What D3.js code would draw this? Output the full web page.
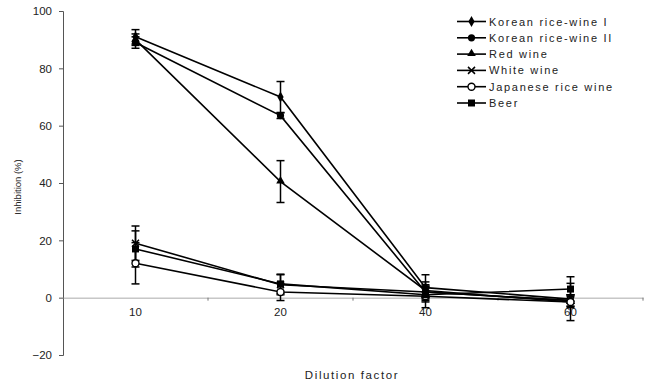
<!DOCTYPE html>
<html>
<head>
<meta charset="utf-8">
<script src="https://cdn.jsdelivr.net/npm/d3@7"></script>
<style>
  body { margin: 0; background: #fff; }
  text { font-family: "Liberation Sans", Arial, sans-serif; fill: #222; }
</style>
</head>
<body>
<script>
// dilution factors on the x axis
var factors = ["10", "20", "40", "60"];
var seriesNames = ["Korean rice-wine I", "Korean rice-wine II", "Red wine", "White wine", "Japanese rice wine", "Beer"];
var markers = ["diamond", "circle", "triangle", "cross", "open", "square"];

// inhibition (%)
var koreanI   = [91, 70, 3.5, -0.5];
var koreanII  = [89, 63.5, 2, -1];
var redWine   = [90, 40.5, 2.5, -1.5];
var whiteWine = [19, 4.5, 2, -1];
var japanese  = [12, 2, 0.5, -1.5];
var beer      = [17, 4.8, 1, 3];

// error bars (+/-)
var errKoreanI   = [2.5, 5.4, 4.5, 1.5];
var errKoreanII  = [2, 1, 2, 2];
var errRedWine   = [2, 7.3, 3, 2];
var errWhiteWine = [6, 3.5, 2, 2];
var errJapanese  = [7.2, 3, 4, 6.5];
var errBeer      = [6.3, 3.4, 2.5, 4.3];

var yTicks = [-20, 0, 20, 40, 60, 80, 100];

var values = [koreanI, koreanII, redWine, whiteWine, japanese, beer];
var errors = [errKoreanI, errKoreanII, errRedWine, errWhiteWine, errJapanese, errBeer];

var series = seriesNames.map(function(n, i) {
  return {name: n, marker: markers[i], points: factors.map(function(f, j) {
    return {f: f, v: values[i][j], e: errors[i][j]};
  })};
});

var W = 652, H = 385;
var margin = {top: 11, right: 9, bottom: 30, left: 63};

var svg = d3.select("body").append("svg")
    .attr("width", W)
    .attr("height", H);

var x = d3.scaleBand().domain(factors).range([margin.left, W - margin.right]);
var y = d3.scaleLinear().domain([-20, 100]).range([H - margin.bottom, margin.top]);

// y axis
var yAxis = svg.append("g")
    .attr("transform", "translate(" + margin.left + ",0)")
    .call(d3.axisLeft(y).tickValues(yTicks).tickSize(4).tickPadding(7));
yAxis.select(".domain").attr("stroke", "#555");
yAxis.selectAll(".tick line").attr("stroke", "#555");
yAxis.selectAll("text").style("font-size", "11.5px").attr("fill", "#333");

// x axis at y = 0
var xAxis = svg.append("g")
    .attr("transform", "translate(0," + y(0) + ")")
    .call(d3.axisBottom(x).tickSize(0).tickPadding(10));
xAxis.select(".domain").attr("stroke", "#aaa");
xAxis.selectAll("text").style("font-size", "11.5px").attr("fill", "#333");
// small tick marks at band edges
svg.append("g").selectAll("line")
  .data(factors)
  .enter().append("line")
    .attr("x1", function(d) { return x(d) + x.bandwidth(); })
    .attr("x2", function(d) { return x(d) + x.bandwidth(); })
    .attr("y1", y(0))
    .attr("y2", y(0) + 3)
    .attr("stroke", "#777");

// axis titles
svg.append("text")
    .attr("transform", "translate(21," + (y(40) + 4) + ") rotate(-90)")
    .attr("text-anchor", "middle")
    .style("font-size", "9.5px")
    .text("Inhibition (%)");
svg.append("text")
    .attr("x", 352)
    .attr("y", 379)
    .attr("text-anchor", "middle")
    .style("font-size", "11.5px")
    .style("letter-spacing", "1.6px")
    .text("Dilution factor");

var cx = function(d) { return x(d.f) + x.bandwidth() / 2; };

var line = d3.line()
    .x(cx)
    .y(function(d) { return y(d.v); });

// error bars
var eb = svg.append("g").attr("stroke", "#000").attr("stroke-width", 1.5);
series.forEach(function(s) {
  s.points.forEach(function(d) {
    var px = cx(d);
    eb.append("line").attr("x1", px).attr("x2", px)
      .attr("y1", y(d.v + d.e)).attr("y2", y(d.v - d.e));
    [d.v + d.e, d.v - d.e].forEach(function(v) {
      eb.append("line").attr("x1", px - 4).attr("x2", px + 4)
        .attr("y1", y(v)).attr("y2", y(v));
    });
  });
});

// lines
svg.append("g").selectAll("path")
  .data(series)
  .enter().append("path")
    .attr("fill", "none")
    .attr("stroke", "#000")
    .attr("stroke-width", 1.6)
    .attr("d", function(s) { return line(s.points); });

function drawMarker(g, type, px, py) {
  if (type === "diamond") {
    g.append("path").attr("d", d3.symbol(d3.symbolDiamond, 34)()).attr("transform", "translate(" + px + "," + py + ")").attr("fill", "#000");
  } else if (type === "circle") {
    g.append("circle").attr("cx", px).attr("cy", py).attr("r", 3.6).attr("fill", "#000");
  } else if (type === "triangle") {
    g.append("path").attr("d", d3.symbol(d3.symbolTriangle, 32)()).attr("transform", "translate(" + px + "," + (py - 0.5) + ")").attr("fill", "#000");
  } else if (type === "cross") {
    g.append("path").attr("d", "M-3.5,-3.5L3.5,3.5M-3.5,3.5L3.5,-3.5").attr("transform", "translate(" + px + "," + py + ")").attr("stroke", "#000").attr("stroke-width", 1.5).attr("fill", "none");
  } else if (type === "open") {
    g.append("circle").attr("cx", px).attr("cy", py).attr("r", 3.5).attr("fill", "#fff").attr("stroke", "#000").attr("stroke-width", 1.4);
  } else if (type === "square") {
    g.append("rect").attr("x", px - 3.5).attr("y", py - 3.5).attr("width", 7).attr("height", 7).attr("fill", "#000");
  }
}

// markers
var mk = svg.append("g");
series.forEach(function(s) {
  s.points.forEach(function(d) { drawMarker(mk, s.marker, cx(d), y(d.v)); });
});

// legend
var legend = svg.append("g");
series.forEach(function(s, i) {
  var ly = 21.5 + i * 16.3;
  legend.append("line").attr("x1", 457).attr("x2", 486).attr("y1", ly).attr("y2", ly)
    .attr("stroke", "#000").attr("stroke-width", 1.6);
  drawMarker(legend, s.marker, 471.5, ly);
  legend.append("text")
    .attr("x", 489)
    .attr("y", ly + 4)
    .style("font-size", "11px")
    .style("letter-spacing", "1.7px")
    .text(s.name);
});
</script>
</body>
</html>
